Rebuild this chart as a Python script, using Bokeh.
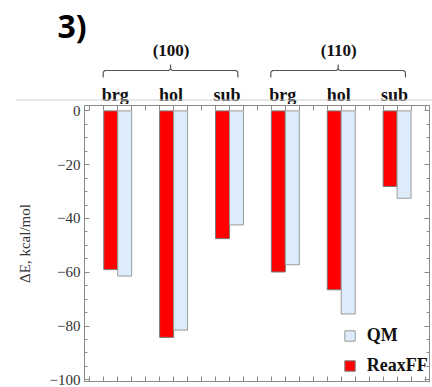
import numpy as np
from bokeh.plotting import figure
from bokeh.models import (Range1d, FixedTicker, LinearAxis, CustomJSTickFormatter,
                          Legend, LegendItem)
from bokeh.layouts import column
from bokeh.embed import file_html
from bokeh.resources import INLINE
from bokeh.core.properties import value

# ---- data ----
sites = ["brg", "hol", "sub", "brg", "hol", "sub"]
surfaces = ["(100)", "(110)"]
reaxff = [-59.0, -84.2, -47.5, -59.9, -66.5, -28.1]
qm = [-61.4, -81.5, -42.4, -57.2, -75.5, -32.5]
y_ticks = [0, -20, -40, -60, -80, -100]
panel_tag = "3)"

xs = np.arange(1, len(sites) + 1, dtype=float)
BW = 0.25
X0, X1 = 0.405, 6.58
LEFT, RIGHT = 84, 3
W = 432
HT = 104
S = (W - LEFT - RIGHT) / (X1 - X0)   # px per data unit

SERIF = "Liberation Serif"
GREY = "#8a8a8a"
RED = "#ff0000"
BLUE = "#dcecfa"

# ---- main plot ----
p = figure(width=W, height=387 - HT, x_range=Range1d(X0, X1), y_range=Range1d(-100.6, 2.0),
           output_backend="svg", toolbar_location=None,
           min_border_left=LEFT, min_border_right=RIGHT, min_border_top=1, min_border_bottom=6,
           outline_line_color=GREY)
p.frame_align = False
p.grid.visible = False

rr = p.vbar(x=xs - BW / 2, top=0, bottom=reaxff, width=BW, fill_color=RED, line_color="#7a7a7a", line_width=1)
rb = p.vbar(x=xs + BW / 2, top=0, bottom=qm, width=BW, fill_color=BLUE, line_color="#9a9a9a", line_width=1)

blank = CustomJSTickFormatter(code="return '';")
yfmt = CustomJSTickFormatter(code="return tick == 0 ? '0' : '\u2212' + Math.abs(tick);")
yticker = FixedTicker(ticks=y_ticks, minor_ticks=list(range(-100, 1, 5)))
xticker = FixedTicker(ticks=list(np.arange(0.5, 6.6, BW)), minor_ticks=[])


def style(ax, labels=True):
    ax.axis_line_color = GREY
    ax.major_tick_line_color = GREY
    ax.minor_tick_line_color = GREY
    ax.major_tick_in = 5
    ax.major_tick_out = 0
    ax.minor_tick_in = 3
    ax.minor_tick_out = 0
    if not labels:
        ax.major_label_text_font_size = "0px"
        ax.major_label_standoff = 0


ly = p.yaxis[0]
ly.ticker = yticker
ly.formatter = yfmt
style(ly)
ly.major_label_text_font = SERIF
ly.major_label_text_font_size = "15px"
ly.major_label_text_color = "#333333"
ly.major_label_standoff = 4
ly.axis_label = "\u0394E, kcal/mol"
ly.axis_label_text_font = SERIF
ly.axis_label_text_font_style = "normal"
ly.axis_label_text_font_size = "15px"
ly.axis_label_text_color = "#333333"
ly.axis_label_standoff = 14

bx = p.xaxis[0]
bx.ticker = xticker
bx.formatter = blank
style(bx, labels=False)

ry = LinearAxis(ticker=yticker, formatter=blank)
style(ry, labels=False)
p.add_layout(ry, "right")

tx = LinearAxis(ticker=xticker, formatter=blank)
style(tx, labels=False)
p.add_layout(tx, "above")

legend = Legend(items=[LegendItem(label="QM", renderers=[rb]),
                       LegendItem(label="ReaxFF", renderers=[rr])],
                location=(258.7, 5), glyph_width=13, glyph_height=13, label_standoff=11,
                spacing=9, padding=0, margin=0, label_height=13,
                label_text_font=SERIF, label_text_font_style="bold", label_text_font_size="18px",
                label_text_color="#111111", border_line_alpha=0, background_fill_alpha=0)
p.add_layout(legend)

# ---- header with group braces: its frame spans the full width, same x scale ----
t = figure(width=W, height=HT, x_range=Range1d(X0 - LEFT / S, X0 + (W - LEFT) / S),
           y_range=Range1d(HT, 0), output_backend="svg", toolbar_location=None,
           min_border=0, min_border_left=0, min_border_right=0, min_border_top=0,
           min_border_bottom=0, outline_line_color=None,
           x_axis_location=None, y_axis_location=None)
t.frame_align = False
t.grid.visible = False

shift = -0.045
t.text(x=xs + shift, y=[94] * len(xs), text=sites, text_font=value(SERIF), text_font_style="bold",
       text_font_size="18px", text_align="center", text_baseline="alphabetic", text_color="#111111")

groups = [xs[0:3], xs[3:6]]
gx = [g.mean() + shift for g in groups]
t.text(x=gx, y=[50] * len(gx), text=surfaces, text_font=value(SERIF), text_font_style="bold",
       text_font_size="17px", text_align="center", text_baseline="alphabetic", text_color="#111111")


def qb(p0, c, p1, n=6):
    tt = np.linspace(0, 1, n)
    return [((1 - u) ** 2 * p0[0] + 2 * (1 - u) * u * c[0] + u ** 2 * p1[0],
             (1 - u) ** 2 * p0[1] + 2 * (1 - u) * u * c[1] + u ** 2 * p1[1]) for u in tt]


def brace(xa, xb, y=70.0, h=7.0, tip=6.0, rp=3.0):
    r = rp / S
    xc = (xa + xb) / 2
    pts = [(xa, y + h)]
    pts += qb((xa, y + rp), (xa, y), (xa + r, y))
    pts += qb((xc - r, y), (xc, y), (xc, y - rp))
    pts += [(xc, y - tip)]
    pts += qb((xc, y - rp), (xc, y), (xc + r, y))
    pts += qb((xb - r, y), (xb, y), (xb, y + rp))
    pts += [(xb, y + h)]
    return [q[0] for q in pts], [q[1] for q in pts]


bxs, bys = [], []
for g in groups:
    a, b = brace(g[0] - 0.26, g[-1] + 0.15)
    bxs.append(a)
    bys.append(b)
t.multi_line(xs=bxs, ys=bys, line_color="#555555", line_width=1.2)

t.segment(x0=[X0 - (LEFT - 16) / S], y0=[99.5], x1=[X0 + (W - LEFT) / S], y1=[99.5],
          line_color="#cfcfcf", line_width=1)

t.text(x=[X0 - (LEFT - 57) / S], y=[25], text=[panel_tag], text_font=value("Open Sans"),
       text_font_style="bold", text_font_size="32px", text_align="left", text_baseline="middle",
       text_color="#000000")

layout = column(t, p, spacing=0)
open("out.html", "w").write(file_html(layout, INLINE))
